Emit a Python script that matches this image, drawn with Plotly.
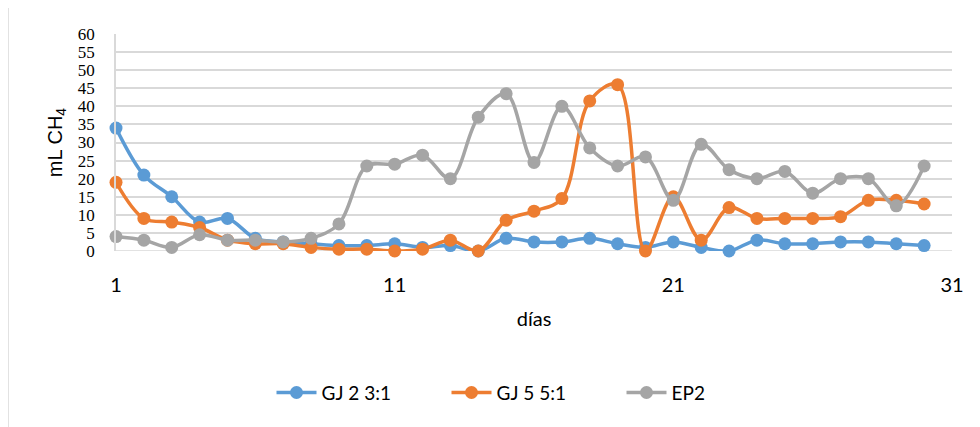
import plotly.graph_objects as go

days = list(range(1, 31))
gj2 = [34, 21, 15, 8, 9, 3.5, 2.5, 2, 1.5, 1.5, 2, 1, 1.5, 0, 3.5, 2.5, 2.5, 3.5, 2, 1,
       2.5, 1, 0, 3, 2, 2, 2.5, 2.5, 2, 1.5]
gj5 = [19, 9, 8, 6.5, 3, 2, 2, 1, 0.5, 0.5, 0, 0.5, 3, 0, 8.5, 11, 14.5, 41.5, 46, 0,
       15, 3, 12, 9, 9, 9, 9.5, 14, 14, 13]
ep2 = [4, 3, 1, 4.5, 3, 3, 2.5, 3.5, 7.5, 23.5, 24, 26.5, 20, 37, 43.5, 24.5, 40, 28.5, 23.5, 26,
       14, 29.5, 22.5, 20, 22, 16, 20, 20, 12.5, 23.5]
series_names = ["GJ 2 3:1", "GJ 5 5:1", "EP2"]
colors = ["#5B9BD5", "#ED7D31", "#A5A5A5"]
x_ticks = [1, 11, 21, 31]
y_ticks = list(range(0, 61, 5))

# page body has an 8px margin; work in screen pixels
OFF = 8
W, H = 980, 427
PL, PR, PT, PB = 116, 952, 33.5, 251   # plot area in screen px
L = PL - OFF
T = PT - OFF
R = W - (PR - OFF)
B = H - (PB - OFF)

SANS = "Lato"
SERIF = "Liberation Serif, Times New Roman, serif"

fig = go.Figure()
for name, vals, col in zip(series_names, [gj2, gj5, ep2], colors):
    fig.add_trace(go.Scatter(
        x=days, y=vals, name=name, mode="lines+markers",
        line=dict(color=col, width=3.5, shape="spline", smoothing=1),
        marker=dict(color=col, size=13, line=dict(width=0)),
        cliponaxis=False,
    ))

pw = PR - PL
ph = PB - PT
def px_x(p):
    return (p - PL) / pw
def px_y(p):
    return (PB - p) / ph

fig.add_shape(type="line", xref="paper", yref="paper",
              x0=px_x(8), x1=px_x(8), y0=px_y(3), y1=px_y(440),
              line=dict(color="#D9D9D9", width=1.5))
fig.add_shape(type="line", xref="paper", yref="paper",
              x0=px_x(8), x1=px_x(990), y0=px_y(3), y1=px_y(3),
              line=dict(color="#D9D9D9", width=1.5))
fig.add_shape(type="line", xref="paper", yref="y", x0=0, x1=1, y0=0, y1=0,
              line=dict(color="#D9D9D9", width=1.5), layer="below")

fig.update_layout(
    width=W, height=H,
    margin=dict(l=L, r=R, t=T, b=B, pad=0, autoexpand=False),
    paper_bgcolor="white", plot_bgcolor="white",
    showlegend=True,
    legend=dict(orientation="h", x=0.5, xanchor="center", y=px_y(393), yanchor="middle",
                font=dict(family=SANS, size=19, color="#000000"),
                itemwidth=40, entrywidth=120, entrywidthmode="pixels", tracegroupgap=0),
    xaxis=dict(range=[1, 31], tickvals=x_ticks, ticktext=[str(t) for t in x_ticks],
               showgrid=False, zeroline=False, showline=False, ticks="", automargin=False,
               ticklabelstandoff=20,
               tickfont=dict(family=SANS, size=20, color="#000000"),
               title=dict(text="días", standoff=16,
                          font=dict(family=SANS, size=20, color="#000000"))),
    yaxis=dict(range=[0, 60], tickvals=y_ticks, showgrid=True, gridcolor="#D9D9D9", gridwidth=1.5,
               zeroline=False, showline=True, linecolor="#D9D9D9", linewidth=1.5, ticks="",
               automargin=False, ticklabelstandoff=16,
               tickfont=dict(family=SERIF, size=17, color="#000000"),
               title=dict(text="mL CH<sub>4</sub>", standoff=10,
                          font=dict(family="Liberation Sans", size=20, color="#000000"))),
)

fig.write_html("out.html")
